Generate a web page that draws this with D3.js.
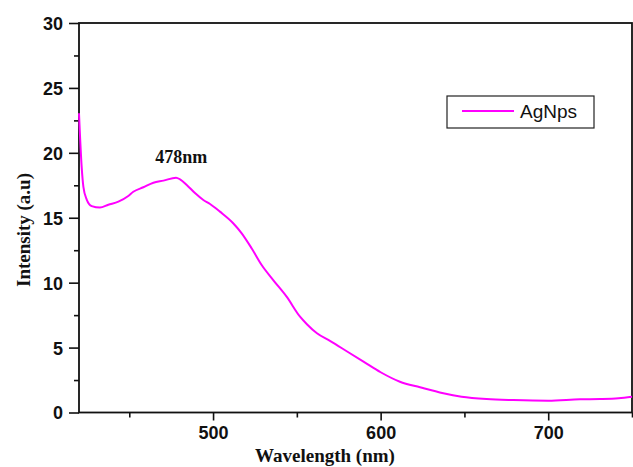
<!DOCTYPE html>
<html>
<head>
<meta charset="utf-8">
<script src="https://cdn.jsdelivr.net/npm/d3@7"></script>
<style>
html,body{margin:0;padding:0;background:#fff;}
svg{display:block;}
</style>
</head>
<body>
<svg id="chart" width="633" height="467"></svg>
<script>
const wavelength = [420, 421.6, 422.6, 424.6, 427.6, 432.5, 437.5, 443.5, 449.4, 452.4, 458.4, 464.4, 470.4, 477.9, 480.3, 484.3, 489.2, 494.2, 498.2, 504.1, 512, 517.1, 523, 529, 535.9, 543.9, 551.9, 556, 562, 570, 580, 590, 600, 611.5, 623.5, 637.4, 648.3, 663.3, 679.1, 700, 719, 730.9, 742, 750];
const intensity  = [23.05, 18.9, 17.4, 16.4, 15.9, 15.78, 16.0, 16.24, 16.68, 17.0, 17.35, 17.7, 17.86, 18.09, 17.96, 17.53, 16.9, 16.37, 16.06, 15.47, 14.58, 13.8, 12.65, 11.36, 10.2, 8.92, 7.38, 6.8, 6.1, 5.5, 4.7, 3.9, 3.1, 2.37, 1.94, 1.48, 1.22, 1.04, 0.96, 0.91, 1.02, 1.04, 1.1, 1.22];
const xTicks = [500, 600, 700];
const xMinorTicks = [450, 550, 650, 750];
const yTicks = [0, 5, 10, 15, 20, 25, 30];
const yMinorTicks = [2.5, 7.5, 12.5, 17.5, 22.5, 27.5];
const seriesName = "AgNps";
const peakLabel = "478nm";
const xTitle = "Wavelength (nm)";
const yTitle = "Intensity (a.u)";

const svg = d3.select("#chart");
const L = 79, R = 632, T = 23, B = 412.5;
const x = d3.scaleLinear().domain([420, 750]).range([L, R]);
const y = d3.scaleLinear().domain([0, 30]).range([B, T]);

// frame
svg.append("rect").attr("x", L).attr("y", T).attr("width", R - L).attr("height", B - T)
  .attr("fill", "none").attr("stroke", "#111").attr("stroke-width", 1.8);

// bottom axis
const xAxis = svg.append("g").attr("transform", `translate(0,${B})`)
  .call(d3.axisBottom(x).tickValues(xTicks).tickSize(8).tickPadding(6).tickFormat(d3.format("d")));
const xMinor = svg.append("g").attr("transform", `translate(0,${B})`)
  .call(d3.axisBottom(x).tickValues(xMinorTicks).tickSize(5).tickFormat(""));
// left axis
const yAxis = svg.append("g").attr("transform", `translate(${L},0)`)
  .call(d3.axisLeft(y).tickValues(yTicks).tickSize(10).tickPadding(6).tickFormat(d3.format("d")));
const yMinor = svg.append("g").attr("transform", `translate(${L},0)`)
  .call(d3.axisLeft(y).tickValues(yMinorTicks).tickSize(5).tickFormat(""));

[xAxis, xMinor, yAxis, yMinor].forEach(g => {
  g.select(".domain").remove();
  g.selectAll(".tick line").attr("stroke", "#111").attr("stroke-width", 1.6);
  g.selectAll("text").attr("font-family", "Liberation Sans, Arial, sans-serif")
    .attr("font-weight", "bold").attr("font-size", 18).attr("fill", "#111");
});
yAxis.selectAll("text").attr("dy", "0.36em");

// line
const line = d3.line().x((d, i) => x(wavelength[i])).y(d => y(d)).curve(d3.curveMonotoneX);
svg.append("path").datum(intensity).attr("d", line)
  .attr("fill", "none").attr("stroke", "#ff00ff").attr("stroke-width", 2);

// peak label
svg.append("text").attr("x", x(478) + 5).attr("y", 163).attr("text-anchor", "middle")
  .attr("font-family", "Liberation Serif, Times New Roman, serif").attr("font-weight", "bold")
  .attr("font-size", 18).attr("fill", "#111").text(peakLabel);

// legend
svg.append("rect").attr("x", 447).attr("y", 96).attr("width", 147).attr("height", 32)
  .attr("fill", "#fff").attr("stroke", "#222").attr("stroke-width", 1.2);
svg.append("line").attr("x1", 462).attr("x2", 514).attr("y1", 111).attr("y2", 111)
  .attr("stroke", "#ff00ff").attr("stroke-width", 2);
svg.append("text").attr("x", 520).attr("y", 118)
  .attr("font-family", "Liberation Sans, Arial, sans-serif").attr("font-size", 19)
  .attr("fill", "#111").text(seriesName);

// axis titles
svg.append("text").attr("x", 325).attr("y", 462).attr("text-anchor", "middle")
  .attr("font-family", "Liberation Serif, Times New Roman, serif").attr("font-weight", "bold")
  .attr("font-size", 19).attr("fill", "#111").text(xTitle);
svg.append("text").attr("transform", "translate(30,230) rotate(-90)").attr("text-anchor", "middle")
  .attr("font-family", "Liberation Serif, Times New Roman, serif").attr("font-weight", "bold")
  .attr("font-size", 19).attr("fill", "#111").text(yTitle);
</script>
</body>
</html>
